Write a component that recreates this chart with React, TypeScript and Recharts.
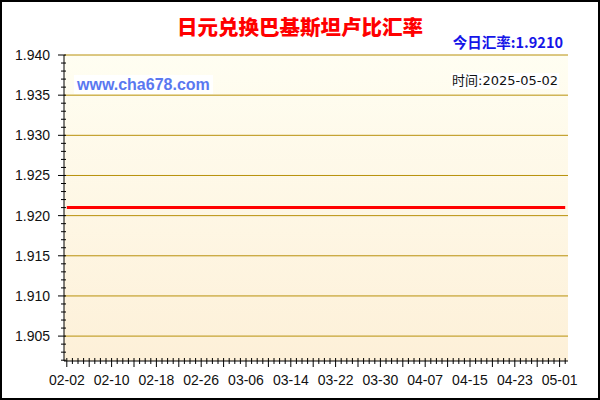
import React from "react";
import { LineChart, Line, XAxis, YAxis, CartesianGrid, ReferenceLine } from "recharts";

const dates = [
  "02-02", "02-03", "02-04", "02-05", "02-06", "02-07", "02-08", "02-09", "02-10", "02-11",
  "02-12", "02-13", "02-14", "02-15", "02-16", "02-17", "02-18", "02-19", "02-20", "02-21",
  "02-22", "02-23", "02-24", "02-25", "02-26", "02-27", "02-28", "03-01", "03-02", "03-03",
  "03-04", "03-05", "03-06", "03-07", "03-08", "03-09", "03-10", "03-11", "03-12", "03-13",
  "03-14", "03-15", "03-16", "03-17", "03-18", "03-19", "03-20", "03-21", "03-22", "03-23",
  "03-24", "03-25", "03-26", "03-27", "03-28", "03-29", "03-30", "03-31", "04-01", "04-02",
  "04-03", "04-04", "04-05", "04-06", "04-07", "04-08", "04-09", "04-10", "04-11", "04-12",
  "04-13", "04-14", "04-15", "04-16", "04-17", "04-18", "04-19", "04-20", "04-21", "04-22",
  "04-23", "04-24", "04-25", "04-26", "04-27", "04-28", "04-29", "04-30", "05-01", "05-02",
];

const rates = [
  1.921, 1.921, 1.921, 1.921, 1.921, 1.921, 1.921, 1.921, 1.921, 1.921,
  1.921, 1.921, 1.921, 1.921, 1.921, 1.921, 1.921, 1.921, 1.921, 1.921,
  1.921, 1.921, 1.921, 1.921, 1.921, 1.921, 1.921, 1.921, 1.921, 1.921,
  1.921, 1.921, 1.921, 1.921, 1.921, 1.921, 1.921, 1.921, 1.921, 1.921,
  1.921, 1.921, 1.921, 1.921, 1.921, 1.921, 1.921, 1.921, 1.921, 1.921,
  1.921, 1.921, 1.921, 1.921, 1.921, 1.921, 1.921, 1.921, 1.921, 1.921,
  1.921, 1.921, 1.921, 1.921, 1.921, 1.921, 1.921, 1.921, 1.921, 1.921,
  1.921, 1.921, 1.921, 1.921, 1.921, 1.921, 1.921, 1.921, 1.921, 1.921,
  1.921, 1.921, 1.921, 1.921, 1.921, 1.921, 1.921, 1.921, 1.921, 1.921,
];

const yMajorTicks = [1.905, 1.91, 1.915, 1.92, 1.925, 1.93, 1.935, 1.94];
const yDomain = [1.9019, 1.94];
const xLabelEvery = 8;
const xMidEvery = 4;

const title = "日元兑换巴基斯坦卢比汇率";
const todayRate = "今日汇率:1.9210";
const siteName = "www.cha678.com";
const timeText = "时间:2025-05-02";

// minor ticks every 0.001 on the value axes
const yMinorTicks: number[] = [];
for (let k = 1902; k <= 1940; k++) yMinorTicks.push(k / 1000);
const dayTicks = dates.map((_, i) => i);

const data = dates.map((d, i) => ({ i, date: d, rate: rates[i] }));

const isMajor = (v: number) => yMajorTicks.some((m) => Math.abs(m - v) < 1e-6);
const axisFont = "'Liberation Sans', Arial, sans-serif";

const LeftTick = ({ x, y, payload }: any) => {
  const major = isMajor(payload.value);
  return (
    <g>
      <line x1={x - (major ? 6 : 3)} x2={x + 2} y1={y} y2={y} stroke="#000" />
      {major && (
        <text x={x - 14} y={y} textAnchor="end" dominantBaseline="central" fontSize={14} fontFamily={axisFont} fill="#111">
          {payload.value.toFixed(3)}
        </text>
      )}
    </g>
  );
};

const RightTick = ({ x, y }: any) => <line x1={x - 4} x2={x} y1={y} y2={y} stroke="#000" />;

const BottomTick = ({ x, y, payload }: any) => {
  const i = payload.value;
  const mid = i % xMidEvery === 0;
  return (
    <g>
      <line x1={x} x2={x} y1={y - 3} y2={y + (mid ? 6 : 3)} stroke="#000" />
      {i % xLabelEvery === 0 && (
        <text x={x} y={y + 19} textAnchor="middle" dominantBaseline="central" fontSize={14} fontFamily={axisFont} fill="#111">
          {dates[i]}
        </text>
      )}
    </g>
  );
};

const TopTick = ({ x, y, payload }: any) => {
  const mid = payload.value % xMidEvery === 0;
  return <line x1={x} x2={x} y1={y} y2={y + (mid ? 4 : 2)} stroke="#000" />;
};

export default function App() {
  return (
    <div style={{ position: "absolute", left: 0, top: 0, width: 600, height: 400, background: "#fff" }}>
      <svg width={0} height={0} style={{ position: "absolute" }}>
        <defs>
          <linearGradient id="plotBg" x1="0" y1="0" x2="0" y2="1">
            <stop offset="0%" stopColor="#FFFEF2" />
            <stop offset="100%" stopColor="#FDF0D8" />
          </linearGradient>
        </defs>
      </svg>
      <LineChart width={600} height={400} data={data} margin={{ top: 55, right: 32, bottom: 0, left: 0 }}>
        <CartesianGrid horizontal={false} vertical={false} fill="url(#plotBg)" fillOpacity={1} />
        <XAxis
          dataKey="i"
          type="number"
          domain={[-0.5, 89.5]}
          ticks={dayTicks}
          interval={0}
          height={39}
          tickSize={0}
          tickMargin={0}
          tick={<BottomTick />}
          axisLine={{ stroke: "#000" }}
          allowDataOverflow
        />
        <XAxis
          xAxisId="top"
          orientation="top"
          dataKey="i"
          type="number"
          domain={[-0.5, 89.5]}
          ticks={dayTicks}
          interval={0}
          height={0}
          tickSize={0}
          tickMargin={0}
          tick={<TopTick />}
          axisLine={{ stroke: "#000" }}
          allowDataOverflow
        />
        <YAxis
          type="number"
          domain={yDomain}
          ticks={yMinorTicks}
          interval={0}
          width={64}
          tickSize={0}
          tickMargin={0}
          tick={<LeftTick />}
          axisLine={{ stroke: "#000" }}
          allowDataOverflow
        />
        <YAxis
          yAxisId="right"
          orientation="right"
          type="number"
          domain={yDomain}
          ticks={yMinorTicks}
          interval={0}
          width={0}
          tickSize={0}
          tickMargin={0}
          tick={<RightTick />}
          axisLine={{ stroke: "#000" }}
          allowDataOverflow
        />
        {yMajorTicks.map((v) => (
          <ReferenceLine key={v} y={v} stroke="#B8900A" strokeWidth={1} />
        ))}
        <Line type="linear" dataKey="rate" stroke="#FF0000" strokeWidth={3} dot={false} isAnimationActive={false} />
      </LineChart>
      <div style={{ position: "absolute", left: 0, top: 12, width: 600, textAlign: "center", color: "#FF0000", fontSize: 20.5, fontWeight: 900, fontFamily: "'Noto Sans CJK SC', sans-serif", lineHeight: "28px" }}>
        {title}
      </div>
      <div style={{ position: "absolute", right: 37, top: 33, color: "#1515E8", fontSize: 14.5, fontWeight: "bold", fontFamily: "'Noto Sans CJK SC', sans-serif", lineHeight: "18px" }}>
        {todayRate}
      </div>
      <div style={{ position: "absolute", left: 74, top: 75, padding: "0 3px", background: "#fff", color: "#5A78F0", fontSize: 16, fontWeight: "bold", fontFamily: axisFont, lineHeight: "19px" }}>
        {siteName}
      </div>
      <div style={{ position: "absolute", right: 41, top: 73, padding: "0 1px", background: "#fff", color: "#111", fontSize: 13, fontFamily: "'DejaVu Sans', 'Noto Sans CJK SC', sans-serif", lineHeight: "16px" }}>
        {timeText}
      </div>
      <div style={{ position: "absolute", left: 0, top: 0, width: 600, height: 400, boxSizing: "border-box", border: "2px solid #000", pointerEvents: "none" }} />
    </div>
  );
}
